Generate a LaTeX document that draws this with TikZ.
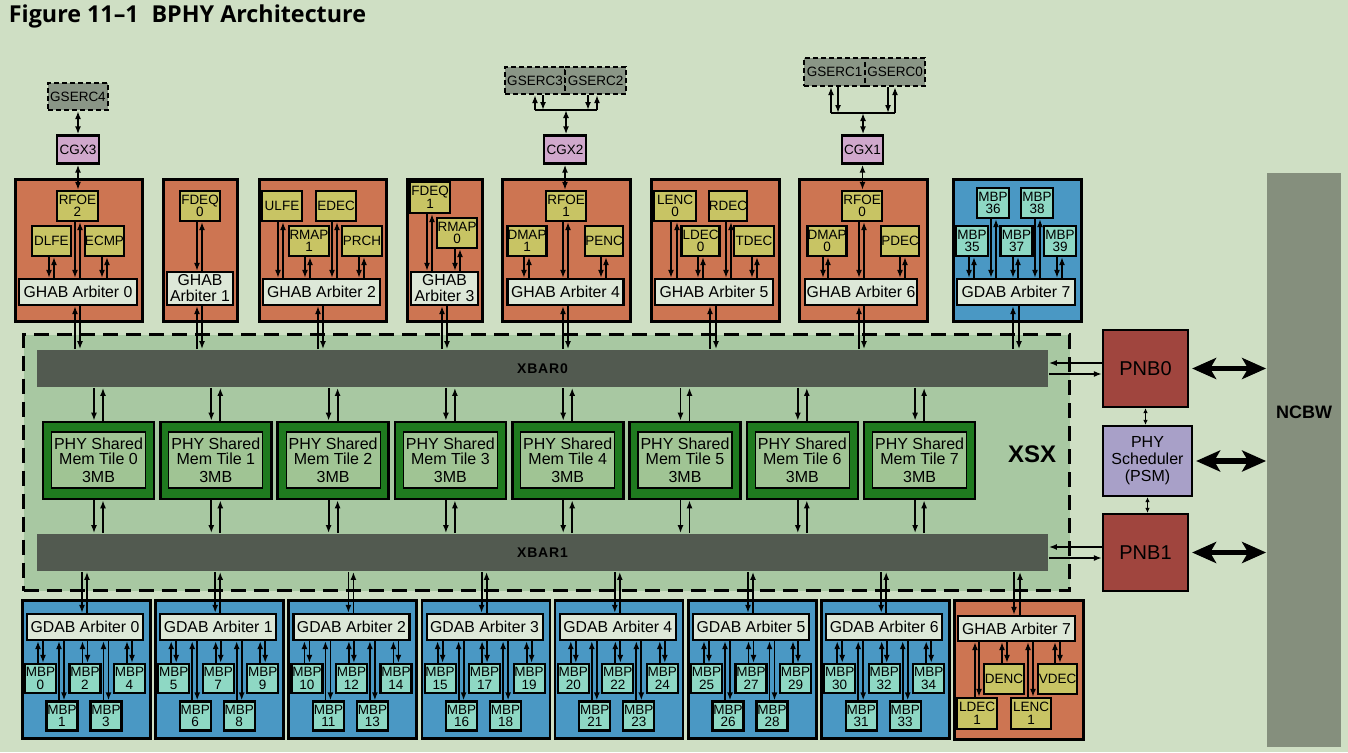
\documentclass[tikz,border=0pt]{standalone}
\usepackage{fontspec}
\setmainfont{Liberation Sans}
\newfontfamily\titlefont{Open Sans}
\newfontfamily\barfont[LetterSpace=6]{Liberation Sans}
\usetikzlibrary{arrows.meta}

\definecolor{bgcol}{RGB}{207,223,196}
\definecolor{xsxcol}{RGB}{168,200,162}
\definecolor{hubcol}{RGB}{205,117,82}
\definecolor{unitcol}{RGB}{200,196,100}
\definecolor{arbcol}{RGB}{221,232,216}
\definecolor{dspcol}{RGB}{74,152,196}
\definecolor{mbpcol}{RGB}{142,216,196}
\definecolor{tilecol}{RGB}{31,122,31}
\definecolor{tilein}{RGB}{160,196,148}
\definecolor{barcol}{RGB}{82,90,80}
\definecolor{pnbcol}{RGB}{160,69,62}
\definecolor{psmcol}{RGB}{168,160,200}
\definecolor{ncbwcol}{RGB}{133,143,125}
\definecolor{gsercol}{RGB}{138,150,134}
\definecolor{cgxcol}{RGB}{208,168,204}

% two one-way links between #1 (upper) and #2 (lower): down at x=#3, up at x=#4
\newcommand\duo[4]{%
  \draw[->] (#3,0 |- #1.south) -- (#3,0 |- #2.north);
  \draw[->] (#4,0 |- #2.north) -- (#4,0 |- #1.south);}

\begin{document}
\begin{tikzpicture}[x=1pt,y=-1pt,line width=1.8pt,>={Latex[length=8pt,width=6pt]},
  hub/.style={draw,line width=2.6pt,fill=hubcol,anchor=north west,minimum height=142,inner sep=0pt},
  dsp/.style={hub,fill=dspcol,minimum height=138},
  unit/.style={draw,line width=2.2pt,fill=unitcol,inner sep=0pt,minimum width=40,minimum height=30,align=center,font=\fontsize{13.5}{12.5}\selectfont},
  mbp/.style={unit,fill=mbpcol,minimum width=31,minimum height=29},
  arb/.style={draw,line width=2.2pt,fill=arbcol,inner sep=0pt,minimum width=117,minimum height=26,align=center,font=\fontsize{15.8}{16}\selectfont},
  memtile/.style={draw,line width=2.6pt,fill=tilecol,minimum width=111,minimum height=77,inner sep=0pt},
  meminner/.style={draw,line width=1.1pt,fill=tilein,minimum width=94,minimum height=56,inner sep=0pt,align=center,font=\fontsize{16}{15}\selectfont},
  xbar/.style={fill=barcol,minimum width=1011,minimum height=37,inner sep=0pt,font=\barfont\bfseries\fontsize{14}{14}\selectfont},
  pnb/.style={draw,line width=2.2pt,fill=pnbcol,minimum width=85,minimum height=77,inner sep=0pt,align=center,font=\fontsize{20}{20}\selectfont},
  serdes/.style={draw,line width=2.2pt,dash pattern=on 5pt off 3pt,fill=gsercol,minimum width=60,minimum height=27,inner sep=0pt,font=\fontsize{13.5}{13.5}\selectfont},
  cgx/.style={draw,line width=2.4pt,fill=cgxcol,minimum width=42,minimum height=28,inner sep=0pt,font=\fontsize{13.5}{13.5}\selectfont},
  fat/.style={line width=5.5pt,{Stealth[length=24pt,width=21pt,inset=6pt]}-{Stealth[length=24pt,width=21pt,inset=6pt]}},
  small/.style={line width=1.4pt,{Latex[length=5pt,width=4.5pt]}-{Latex[length=5pt,width=4.5pt]}}]

  \useasboundingbox[fill=bgcol] (0,0) rectangle (1348,752);
  \node[anchor=north west,inner sep=0pt,font=\titlefont\bfseries\fontsize{23.3}{23.3}\selectfont] (title) at (8,3.5) {Figure 11–1\hspace{0.55em}BPHY Architecture};

  % XSX cross-switch region
  \node[draw,line width=3pt,dash pattern=on 15pt off 8pt,fill=xsxcol,anchor=north west,minimum width=1046,minimum height=256,inner sep=0pt] (xsx) at (22,333) {};
  \node[font=\bfseries\fontsize{24}{24}\selectfont] (xsxname) at (1032,454) {XSX};
  \node[xbar] (xbar0) at (542.5,368.5) {XBAR0};
  \node[xbar] (xbar1) at (542.5,552.5) {XBAR1};

  % NCBW and the right column
  \node[fill=ncbwcol,minimum width=74,minimum height=574,inner sep=0pt] (ncbw) at (1304,460) {};
  \node[font=\bfseries\fontsize{18}{18}\selectfont] (ncbwname) at (1304,412) {NCBW};
  \node[pnb] (pnb0) at (1145.5,368.5) {PNB0};
  \node[pnb,fill=psmcol,minimum width=89,minimum height=70,font=\fontsize{16}{17}\selectfont] (psm) at (1147.5,461) {PHY\\Scheduler\\(PSM)};
  \node[pnb] (pnb1) at (1145.5,552.5) {PNB1};
  \draw[small] (pnb0.south) -- (pnb0.south |- psm.north);
  \draw[small] (psm.south) -- (psm.south |- pnb1.north);
  \draw[fat,shorten <=3pt] (pnb0.east) -- (pnb0.east -| ncbw.west);
  \draw[fat,shorten <=3pt] (psm.east) -- (psm.east -| ncbw.west);
  \draw[fat,shorten <=3pt] (pnb1.east) -- (pnb1.east -| ncbw.west);
  \draw[->] (pnb0.west |- 0,363) -- (xbar0.east |- 0,363);
  \draw[->] (xbar0.east |- 0,374) -- (pnb0.west |- 0,374);
  \draw[->] (pnb1.west |- 0,547) -- (xbar1.east |- 0,547);
  \draw[->] (xbar1.east |- 0,558) -- (pnb1.west |- 0,558);

  % SerDes and CGX
  \node[serdes] (gserc4) at (78,96.5) {GSERC4};
  \node[cgx] (cgx3) at (78,149.5) {CGX3};
  \node[serdes] (gserc3) at (535,80.5) {GSERC3};
  \node[serdes,minimum width=61] (gserc2) at (595.5,80.5) {GSERC2};
  \node[cgx] (cgx2) at (565,149.5) {CGX2};
  \node[serdes,minimum width=61,minimum height=28] (gserc1) at (834.5,72) {GSERC1};
  \node[serdes,minimum height=28] (gserc0) at (895,72) {GSERC0};
  \node[cgx,minimum width=41] (cgx1) at (862.5,149.5) {CGX1};
  \draw[<->] (gserc4) -- (cgx3);
  \coordinate (busw) at (535,110);
  \coordinate (buse) at (597,110);
  \draw (busw) -- (buse);
  \draw[->] (busw) -- (busw |- gserc3.south);
  \draw[->] (543,0 |- gserc3.south) -- (543,0 |- busw);
  \draw[->] (588,0 |- gserc2.south) -- (588,0 |- busw);
  \draw[->] (buse) -- (buse |- gserc2.south);
  \draw[<->] (566,0 |- busw) -- (566,0 |- cgx2.north);
  \coordinate (bus1w) at (831,113);
  \coordinate (bus1e) at (895,113);
  \draw (bus1w) -- (bus1e);
  \draw[->] (bus1w) -- (bus1w |- gserc1.south);
  \draw[->] (838,0 |- gserc1.south) -- (838,0 |- bus1w);
  \draw[->] (888,0 |- gserc0.south) -- (888,0 |- bus1w);
  \draw[->] (bus1e) -- (bus1e |- gserc0.south);
  \draw[<->] (863,0 |- bus1w) -- (863,0 |- cgx1.north);

  % upper hub blocks
  \node[hub,minimum width=127] (top0) at (14,178) {};
  \node[hub,minimum width=74] (top1) at (162,178) {};
  \node[hub,minimum width=127] (top2) at (258,178) {};
  \node[hub,minimum width=75] (top3) at (406,178) {};
  \node[hub,minimum width=128] (top4) at (501,178) {};
  \node[hub,minimum width=128] (top5) at (650,178) {};
  \node[hub,minimum width=128] (top6) at (798,178) {};
  \node[hub,fill=dspcol,minimum width=128] (top7) at (952,178) {};

  \node[unit,minimum width=41] (rfoe2) at (77.5,206) {RFOE\\2};
  \node[unit,minimum width=39] (dlfe) at (51.5,241) {DLFE};
  \node[unit,minimum width=39] (ecmp) at (104.5,241) {ECMP};
  \node[arb,minimum width=118] (garb0) at (78,292) {GHAB Arbiter 0};

  \node[unit] (fdeq0) at (200,206) {FDEQ\\0};
  \node[arb,minimum width=66,minimum height=33] (garb1) at (200,288.5) {GHAB\\Arbiter 1};

  \node[unit] (ulfe) at (282,206) {ULFE};
  \node[unit] (edec) at (336,206) {EDEC};
  \node[unit] (rmap1) at (309,241) {RMAP\\1};
  \node[unit] (prch) at (362,241) {PRCH};
  \node[arb] (garb2) at (321.5,292) {GHAB Arbiter 2};

  \node[unit,minimum height=31] (fdeq1) at (430,197.5) {FDEQ\\1};
  \node[unit] (rmap0) at (457,233) {RMAP\\0};
  \node[arb,minimum width=67,minimum height=33] (garb3) at (444.5,288.5) {GHAB\\Arbiter 3};

  \node[unit] (rfoe1) at (566,206) {RFOE\\1};
  \node[unit,minimum width=39] (dmap1) at (527,241) {DMAP\\1};
  \node[unit,minimum width=38] (penc) at (604,241) {PENC};
  \node[arb,minimum width=116] (garb4) at (565.5,292) {GHAB Arbiter 4};

  \node[unit,minimum width=42] (lenc0) at (675,206) {LENC\\0};
  \node[unit,minimum width=38] (rdec) at (728,206) {RDEC};
  \node[unit,minimum width=38] (ldec0) at (700.5,241) {LDEC\\0};
  \node[unit] (tdec) at (754,241) {TDEC};
  \node[arb,minimum width=118] (garb5) at (714,292) {GHAB Arbiter 5};

  \node[unit] (rfoe0) at (862,206) {RFOE\\0};
  \node[unit,minimum width=38] (dmap0) at (827,241) {DMAP\\0};
  \node[unit,minimum width=38] (pdec) at (900,241) {PDEC};
  \node[arb,minimum width=112] (garb6) at (861,292) {GHAB Arbiter 6};

  \node[mbp,minimum width=32,minimum height=30] (mbp36) at (993,203) {MBP\\36};
  \node[mbp,minimum width=32,minimum height=30] (mbp38) at (1037,203) {MBP\\38};
  \node[mbp,minimum width=32,minimum height=30] (mbp35) at (972,241) {MBP\\35};
  \node[mbp,minimum width=32,minimum height=30] (mbp37) at (1016.5,241) {MBP\\37};
  \node[mbp,minimum width=32,minimum height=30] (mbp39) at (1060,241) {MBP\\39};
  \node[arb,minimum width=118] (darb7) at (1016,292) {GDAB Arbiter 7};

  \draw[<->] (cgx3.south) -- (cgx3.south |- rfoe2.north);
  \draw[<->] (cgx2.south) -- (cgx2.south |- rfoe1.north);
  \draw[<->] (cgx1.south) -- (cgx1.south |- rfoe0.north);

  \duo{dlfe}{garb0}{49}{54} \duo{rfoe2}{garb0}{75}{80} \duo{ecmp}{garb0}{102}{107}
  \duo{fdeq0}{garb1}{197}{202}
  \duo{ulfe}{garb2}{278}{283} \duo{rmap1}{garb2}{305}{310}
  \duo{edec}{garb2}{332}{337} \duo{prch}{garb2}{359}{364}
  \duo{fdeq1}{garb3}{427}{432} \duo{rmap0}{garb3}{455}{460}
  \duo{dmap1}{garb4}{524}{529} \duo{rfoe1}{garb4}{563}{568} \duo{penc}{garb4}{601}{606}
  \duo{lenc0}{garb5}{671}{677} \duo{ldec0}{garb5}{698}{703}
  \duo{rdec}{garb5}{726}{731} \duo{tdec}{garb5}{752}{757}
  \duo{dmap0}{garb6}{823}{828} \duo{rfoe0}{garb6}{859}{864} \duo{pdec}{garb6}{900}{905}
  \duo{mbp35}{darb7}{969}{974} \duo{mbp36}{darb7}{991}{996} \duo{mbp37}{darb7}{1013}{1018}
  \duo{mbp38}{darb7}{1035}{1040} \duo{mbp39}{darb7}{1057}{1062}

  % arbiters to XBAR0
  \duo{garb0}{xbar0}{80}{75} \duo{garb1}{xbar0}{202}{197}
  \duo{garb2}{xbar0}{323}{318} \duo{garb3}{xbar0}{447}{442}
  \duo{garb4}{xbar0}{568}{563} \duo{garb5}{xbar0}{716}{710}
  \duo{garb6}{xbar0}{864}{859} \duo{darb7}{xbar0}{1019}{1013}

  % shared memory tiles
  \foreach \k in {0,...,7}{
    \pgfmathsetmacro\tx{98.5+117.3*\k}
    \node[memtile] (tile\k) at (\tx,460.5) {};
    \node[meminner] (mem\k) at (\tx,460) {PHY Shared\\Mem Tile \k\\[3pt]3MB};
    \duo{xbar0}{tile\k}{\tx-4.5}{\tx+4.5}
    \duo{tile\k}{xbar1}{\tx-4.5}{\tx+4.5}
  }

  % lower DSP blocks
  \foreach \k in {0,...,6}{
    \pgfmathsetmacro\bx{21+133.2*\k}
    \pgfmathtruncatemacro\ma{5*\k}
    \pgfmathtruncatemacro\mb{5*\k+1}
    \pgfmathtruncatemacro\mc{5*\k+2}
    \pgfmathtruncatemacro\md{5*\k+3}
    \pgfmathtruncatemacro\me{5*\k+4}
    \node[dsp,minimum width=128] (bot\k) at (\bx,599) {};
    \node[arb,minimum width=116] (darb\k) at (\bx+64,627) {GDAB Arbiter \k};
    \node[mbp] (mbp\ma) at (\bx+19.5,678.5) {MBP\\\ma};
    \node[mbp] (mbp\mc) at (\bx+64,678.5) {MBP\\\mc};
    \node[mbp] (mbp\me) at (\bx+108.5,678.5) {MBP\\\me};
    \node[mbp] (mbp\mb) at (\bx+41,716) {MBP\\\mb};
    \node[mbp] (mbp\md) at (\bx+85,716) {MBP\\\md};
    \duo{xbar1}{darb\k}{\bx+61}{\bx+66}
    \duo{darb\k}{mbp\ma}{\bx+22}{\bx+17}
    \duo{darb\k}{mbp\mb}{\bx+43}{\bx+38}
    \duo{darb\k}{mbp\mc}{\bx+66.5}{\bx+61.5}
    \duo{darb\k}{mbp\md}{\bx+87.5}{\bx+82.5}
    \duo{darb\k}{mbp\me}{\bx+111}{\bx+106}
  }

  % last lower block (hub)
  \node[hub,minimum width=129,minimum height=139] (bot7) at (953,599) {};
  \node[arb,minimum width=117,minimum height=25] (garb7) at (1016.5,628.5) {GHAB Arbiter 7};
  \node[unit] (denc) at (1004,679) {DENC};
  \node[unit,minimum width=39] (vdec) at (1057.5,679) {VDEC};
  \node[unit,minimum height=31] (ldec1) at (977,713.5) {LDEC\\1};
  \node[unit,minimum height=31] (lenc1) at (1031,713.5) {LENC\\1};
  \duo{xbar1}{garb7}{1014}{1020}
  \duo{garb7}{ldec1}{979}{975} \duo{garb7}{denc}{1007}{1002}
  \duo{garb7}{lenc1}{1033}{1028} \duo{garb7}{vdec}{1060}{1055}
\end{tikzpicture}
\end{document}
